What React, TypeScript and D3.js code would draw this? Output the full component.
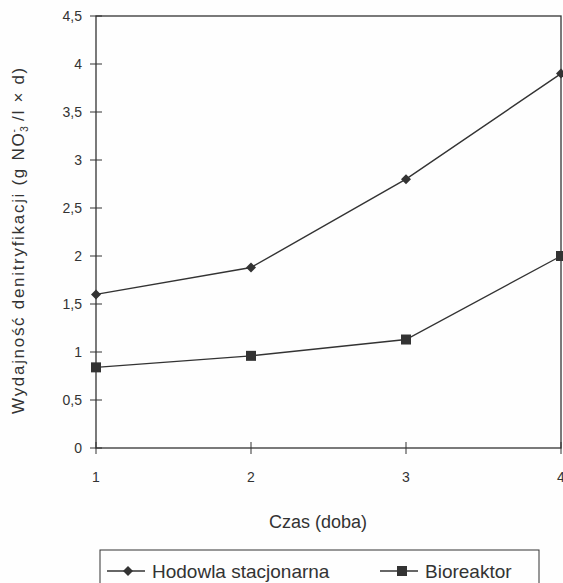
import React from "react";
import * as d3 from "d3";

const days = [1, 2, 3, 4];
const hodowla = [1.6, 1.88, 2.8, 3.9];
const bioreaktor = [0.84, 0.96, 1.13, 2.0];
const yTicks = [0, 0.5, 1, 1.5, 2, 2.5, 3, 3.5, 4, 4.5];
const seriesNames = ["Hodowla stacjonarna", "Bioreaktor"];

const W = 563, H = 583;
const left = 96, right = 561, top = 16, bottom = 448;
const ink = "#333";
const font = "Liberation Sans, Arial, sans-serif";

export default function App() {
  const x = d3.scaleLinear().domain([1, 4]).range([left, right]);
  const y = d3.scaleLinear().domain([0, 4.5]).range([bottom, top]);
  const line = d3.line<number>().x((_, i) => x(days[i])).y((d) => y(d));
  const fmt = (v: number) => String(v).replace(".", ",");
  const diamond = (cx: number, cy: number, r = 5) =>
    `M${cx},${cy - r}L${cx + r},${cy}L${cx},${cy + r}L${cx - r},${cy}Z`;

  return (
    <svg width={W} height={H} style={{ position: "absolute", left: 0, top: 0, background: "#fff" }}
      fontFamily={font}>
      <rect x={0} y={0} width={W} height={H} fill="#fefefe" />
      <rect x={left} y={top} width={right - left} height={bottom - top} fill="none" stroke={ink} strokeWidth={1.3} />
      {yTicks.map((t) => (
        <g key={t}>
          <line x1={left - 6} x2={left + 6} y1={y(t)} y2={y(t)} stroke={ink} strokeWidth={1} />
          <text x={82} y={y(t) + 5} textAnchor="end" fontSize={14} fill={ink}>{fmt(t)}</text>
        </g>
      ))}
      {days.map((d) => (
        <g key={d}>
          <line x1={x(d)} x2={x(d)} y1={bottom - 6} y2={bottom + 6} stroke={ink} strokeWidth={1} />
          <text x={x(d)} y={482} textAnchor="middle" fontSize={14} fill={ink}>{d}</text>
        </g>
      ))}
      <path d={line(hodowla) || ""} fill="none" stroke={ink} strokeWidth={1.4} />
      <path d={line(bioreaktor) || ""} fill="none" stroke={ink} strokeWidth={1.4} />
      {hodowla.map((v, i) => (
        <path key={"h" + i} d={diamond(x(days[i]), y(v))} fill={ink} />
      ))}
      {bioreaktor.map((v, i) => (
        <rect key={"b" + i} x={x(days[i]) - 5} y={y(v) - 5} width={10} height={10} fill={ink} />
      ))}
      <text x={318} y={528} textAnchor="middle" fontSize={18} fill={ink}>Czas (doba)</text>
      <text transform={`translate(24,240) rotate(-90)`} textAnchor="middle" fontSize={17} letterSpacing={1.7} fill={ink}>
        Wydajność denitryfikacji (g NO<tspan fontSize={10} dy={4}>3</tspan>
        <tspan fontSize={10} dy={-11} dx={-8}>-</tspan>
        <tspan dy={7}> /l × d)</tspan>
      </text>
      <rect x={100} y={550} width={439} height={50} fill="none" stroke={ink} strokeWidth={1} />
      <line x1={107} x2={145} y1={571} y2={571} stroke={ink} strokeWidth={1.4} />
      <path d={diamond(128, 571, 5)} fill={ink} />
      <text x={152} y={578} fontSize={19} fill={ink}>{seriesNames[0]}</text>
      <line x1={380} x2={418} y1={571} y2={571} stroke={ink} strokeWidth={1.4} />
      <rect x={397} y={566} width={10} height={10} fill={ink} />
      <text x={425} y={578} fontSize={19} fill={ink}>{seriesNames[1]}</text>
    </svg>
  );
}
